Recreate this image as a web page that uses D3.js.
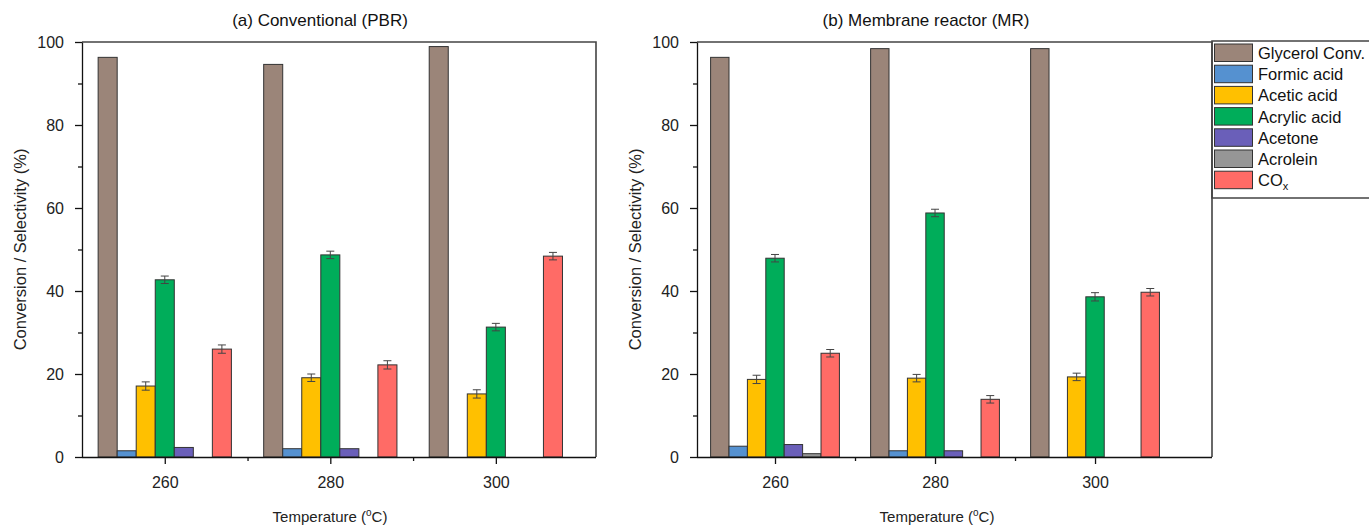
<!DOCTYPE html>
<html lang="en">
<head>
    <meta charset="UTF-8">
    <title>Glycerol conversion and selectivity</title>
    <script src="https://d3js.org/d3.v7.min.js"></script>
    <style>
        body {
            margin: 0;
            background: #fff;
            font-family: "Liberation Sans", Arial, sans-serif;
        }
        .tick text { font-size: 16px; fill: #222; }
        .axis path, .axis line { stroke: #111; stroke-width: 1.3; }
        .frame { stroke: #444; stroke-width: 1.6; fill: none; }
        .bar { stroke: #333; stroke-width: 1; }
        .err { stroke: #444; stroke-width: 1; }
        .title { font-size: 17px; fill: #111; text-anchor: middle; }
        .axTitle { font-size: 15px; fill: #222; text-anchor: middle; }
        .yTitle { font-size: 16.5px; fill: #222; text-anchor: middle; }
        .legText { font-size: 16.5px; fill: #111; }
    </style>
</head>
<body>
<div id="chart"></div>
<script>
    // temperatures (°C)
    var temps = [260, 280, 300];
    var series = ["Glycerol Conv.", "Formic acid", "Acetic acid", "Acrylic acid", "Acetone", "Acrolein", "COx"];
    var colors = ["#9b8579", "#5591d0", "#ffc000", "#00ad5a", "#6a5fb9", "#969696", "#ff6b66"];

    // (a) conventional PBR - one array per series, values at 260/280/300
    var pbrGlycerol = [96.3, 94.6, 98.9];
    var pbrFormic   = [1.5, 2.0, 0];
    var pbrAcetic   = [17.1, 19.1, 15.2];
    var pbrAcrylic  = [42.7, 48.7, 31.3];
    var pbrAcetone  = [2.3, 2.0, 0];
    var pbrAcrolein = [0, 0, 0];
    var pbrCOx      = [26.0, 22.2, 48.4];
    var pbrErrAcetic  = [1.0, 0.9, 1.0];
    var pbrErrAcrylic = [0.9, 0.9, 0.9];
    var pbrErrCOx     = [1.0, 1.0, 0.9];

    // (b) membrane reactor MR
    var mrGlycerol = [96.3, 98.4, 98.4];
    var mrFormic   = [2.6, 1.5, 0];
    var mrAcetic   = [18.7, 19.0, 19.3];
    var mrAcrylic  = [47.9, 58.8, 38.6];
    var mrAcetone  = [3.0, 1.5, 0];
    var mrAcrolein = [0.8, 0, 0];
    var mrCOx      = [25.0, 13.9, 39.7];
    var mrErrAcetic  = [1.0, 0.9, 0.9];
    var mrErrAcrylic = [0.9, 0.9, 1.0];
    var mrErrCOx     = [0.9, 0.9, 0.9];

    var yTicks = [0, 20, 40, 60, 80, 100];
    var yMinor = [10, 30, 50, 70, 90];
    var xMinor = [270, 290];

    var W = 1369, H = 526;
    var plotTop = 42, plotBottom = 457;
    var barW = 2.3; // bar width in °C units

    var svg = d3.select("#chart").append("svg")
        .attr("width", W).attr("height", H);

    var y = d3.scaleLinear().domain([0, 100]).range([plotBottom, plotTop]);

    var panels = [
        { title: "(a) Conventional (PBR)", x0: 82, x1: 596, domain: [250, 312.1], titleX: 320, xTitleX: 330, yTitleX: 20,
          vals: [pbrGlycerol, pbrFormic, pbrAcetic, pbrAcrylic, pbrAcetone, pbrAcrolein, pbrCOx],
          errs: [null, null, pbrErrAcetic, pbrErrAcrylic, null, null, pbrErrCOx] },
        { title: "(b) Membrane reactor (MR)", x0: 697, x1: 1212, domain: [250.25, 314.62], titleX: 926, xTitleX: 937, yTitleX: 635,
          vals: [mrGlycerol, mrFormic, mrAcetic, mrAcrylic, mrAcetone, mrAcrolein, mrCOx],
          errs: [null, null, mrErrAcetic, mrErrAcrylic, null, null, mrErrCOx] }
    ];

    panels.forEach(function(p) {
        var x = d3.scaleLinear().domain(p.domain).range([p.x0, p.x1]);
        var g = svg.append("g");

        // Bars
        p.vals.forEach(function(arr, si) {
            arr.forEach(function(v, ti) {
                var c = temps[ti] + (si - 3) * barW;
                if (v <= 0) return;
                g.append("rect")
                    .attr("class", "bar")
                    .attr("x", x(c - barW / 2))
                    .attr("width", x(c + barW / 2) - x(c - barW / 2))
                    .attr("y", y(v))
                    .attr("height", y(0) - y(v))
                    .attr("fill", colors[si]);
                var e = p.errs[si];
                if (e) {
                    var ex = x(c);
                    g.append("line").attr("class", "err")
                        .attr("x1", ex).attr("x2", ex)
                        .attr("y1", y(v + e[ti])).attr("y2", y(v - e[ti]));
                    [v + e[ti], v - e[ti]].forEach(function(ev) {
                        g.append("line").attr("class", "err")
                            .attr("x1", ex - 4).attr("x2", ex + 4)
                            .attr("y1", y(ev)).attr("y2", y(ev));
                    });
                }
            });
        });

        // Frame (top and right)
        g.append("path").attr("class", "frame")
            .attr("d", "M" + p.x0 + "," + plotTop + "H" + p.x1 + "V" + plotBottom);

        // Y axis
        g.append("g").attr("class", "axis")
            .attr("transform", "translate(" + p.x0 + ",0)")
            .call(d3.axisLeft(y).tickValues(yTicks).tickSize(7).tickPadding(11).tickSizeOuter(0));
        g.append("g").attr("class", "axis")
            .attr("transform", "translate(" + p.x0 + ",0)")
            .call(d3.axisLeft(y).tickValues(yMinor).tickSize(4).tickFormat("").tickSizeOuter(0))
            .select(".domain").remove();

        // X axis
        var xa = g.append("g").attr("class", "axis")
            .attr("transform", "translate(0," + plotBottom + ")")
            .call(d3.axisBottom(x).tickValues(temps).tickSize(7).tickPadding(13).tickSizeOuter(0));
        xa.select(".domain").attr("d", "M" + p.x0 + ",0.5H" + p.x1);
        g.append("g").attr("class", "axis")
            .attr("transform", "translate(0," + plotBottom + ")")
            .call(d3.axisBottom(x).tickValues(xMinor).tickSize(4).tickFormat("").tickSizeOuter(0))
            .select(".domain").remove();

        // Titles
        g.append("text").attr("class", "title")
            .attr("x", p.titleX).attr("y", 26).text(p.title);

        var xt = g.append("text").attr("class", "axTitle")
            .attr("x", p.xTitleX).attr("y", 522);
        xt.append("tspan").text("Temperature (");
        xt.append("tspan").attr("font-size", "10px").attr("dy", -6).text("o");
        xt.append("tspan").attr("dy", 6).text("C)");

        g.append("text").attr("class", "yTitle")
            .attr("transform", "translate(" + p.yTitleX + "," + ((plotTop + plotBottom) / 2) + ") rotate(-90)")
            .attr("dy", "0.35em")
            .text("Conversion / Selectivity (%)");
    });

    // Legend
    var lx = 1212, ly = 41, rowH = 21.2;
    var leg = svg.append("g");
    leg.append("path").attr("class", "frame")
        .attr("d", "M" + W + "," + ly + "H" + lx + "V" + (ly + 157) + "H" + W);
    series.forEach(function(s, i) {
        var yy = ly + 3 + i * rowH;
        leg.append("rect").attr("class", "bar")
            .attr("x", lx + 2.5).attr("y", yy)
            .attr("width", 38).attr("height", 17.5)
            .attr("fill", colors[i]);
        var t = leg.append("text").attr("class", "legText")
            .attr("x", lx + 46).attr("y", yy + 15);
        if (s === "COx") {
            t.append("tspan").text("CO");
            t.append("tspan").attr("font-size", "11px").attr("dy", 4).text("x");
        } else {
            t.text(s);
        }
    });
</script>
</body>
</html>
